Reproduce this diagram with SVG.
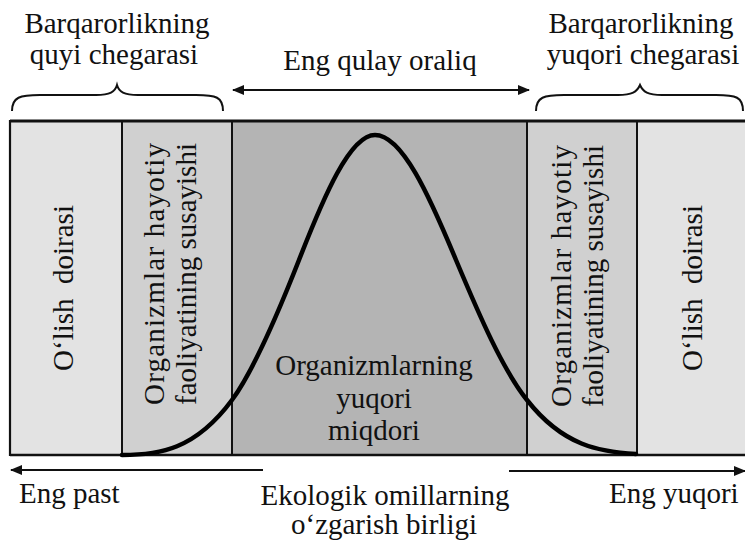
<svg xmlns="http://www.w3.org/2000/svg" width="745" height="542" viewBox="0 0 745 542">
<defs>
<style>
text{font-family:"Liberation Serif",LiberationSerif,"Times New Roman",Times,Tinos,"Nimbus Roman","Nimbus Roman No9 L","DejaVu Serif","Noto Serif",serif;font-size:29px;fill:#111}
.c{text-anchor:middle}
.edge{stroke:#111;stroke-width:2.2;fill:none}
.brace{stroke:#111;stroke-width:2;fill:none}
.z1{fill:#e3e3e3}
.z2{fill:#d0d0d0}
.z3{fill:#b4b4b4}
</style>
<marker id="ah" viewBox="0 0 12 10" refX="11" refY="5" markerWidth="12" markerHeight="10" markerUnits="userSpaceOnUse" orient="auto">
<path d="M0,0 L12,5 L0,10 Z" fill="#111"/>
</marker>
</defs>
<rect width="745" height="542" fill="#fff"/>

<g id="zone-death-left">
<rect class="z1" x="10" y="121" width="112" height="334"/>
<text class="c" transform="translate(73,288) rotate(-90)" xml:space="preserve">O‘lish  doirasi</text>
</g>
<g id="zone-suppression-left">
<rect class="z2" x="122" y="121" width="110" height="334"/>
<text transform="translate(164,405) rotate(-90)" textLength="262" lengthAdjust="spacing">Organizmlar hayotiy</text>
<text transform="translate(196,405) rotate(-90)" textLength="262" lengthAdjust="spacing">faoliyatining susayishi</text>
</g>
<g id="zone-optimum">
<rect class="z3" x="232" y="121" width="295" height="334"/>
<text class="c" x="374" y="375">Organizmlarning</text>
<text class="c" x="374" y="408">yuqori</text>
<text class="c" x="374" y="440">miqdori</text>
</g>
<g id="zone-suppression-right">
<rect class="z2" x="527" y="121" width="110" height="334"/>
<text transform="translate(571,407) rotate(-90)" textLength="262" lengthAdjust="spacing">Organizmlar hayotiy</text>
<text transform="translate(603,407) rotate(-90)" textLength="262" lengthAdjust="spacing">faoliyatining susayishi</text>
</g>
<g id="zone-death-right">
<rect class="z1" x="637" y="121" width="108" height="334"/>
<text class="c" transform="translate(702,288) rotate(-90)" xml:space="preserve">O‘lish  doirasi</text>
</g>

<g id="frame">
<line x1="10" y1="121" x2="745" y2="121" stroke="#111" stroke-width="3"/>
<line x1="10" y1="455" x2="745" y2="455" stroke="#111" stroke-width="2.5"/>
<line x1="10" y1="120" x2="10" y2="456" stroke="#111" stroke-width="2.2"/>
<line x1="122" y1="121" x2="122" y2="455" stroke="#111" stroke-width="2"/>
<line x1="232" y1="121" x2="232" y2="455" stroke="#111" stroke-width="2"/>
<line x1="527" y1="121" x2="527" y2="455" stroke="#111" stroke-width="2"/>
<line x1="637" y1="121" x2="637" y2="455" stroke="#111" stroke-width="2"/>
</g>

<g id="tolerance-curve">
<path d="M122,455 C159,455 195,450 232,400 C254,370 277,316 299,260 C324,196 350,135 375,135 C402,135 429,195 456,260 C480,317 503,370 527,400 C563,446 600,452 636,454" fill="none" stroke="#000" stroke-width="4.5" stroke-linecap="round"/>
</g>

<g id="label-lower-limit">
<path class="brace" d="M12,111 C12,97 20,95 40,95 L96,95 C110,95 115,92 117,85 C119,92 124,95 138,95 L196,95 C216,95 223,97 223,111"/>
<text class="c" x="117" y="33">Barqarorlikning</text>
<text class="c" x="114" y="64">quyi chegarasi</text>
</g>
<g id="label-upper-limit">
<path class="brace" d="M536,111 C536,97 544,95 564,95 L618,95 C632,95 637,92 640,85 C643,92 648,95 662,95 L716,95 C736,95 743,97 743,111"/>
<text class="c" x="641" y="33">Barqarorlikning</text>
<text class="c" x="643" y="64">yuqori chegarasi</text>
</g>
<g id="label-optimum">
<text class="c" x="380" y="70">Eng qulay oraliq</text>
</g>
<g id="label-axis">
<text x="19" y="503">Eng past</text>
<text class="c" x="385" y="505">Ekologik omillarning</text>
<text class="c" x="384" y="534">o‘zgarish birligi</text>
<text x="609" y="503">Eng yuqori</text>
</g>

<g id="connectors">
<line class="edge" x1="380" y1="90" x2="233" y2="90" marker-end="url(#ah)"/>
<line class="edge" x1="380" y1="90" x2="529" y2="90" marker-end="url(#ah)"/>
<line class="edge" x1="263" y1="470" x2="11" y2="470" marker-end="url(#ah)"/>
<line class="edge" x1="509" y1="471" x2="745" y2="471" marker-end="url(#ah)"/>
</g>
</svg>
